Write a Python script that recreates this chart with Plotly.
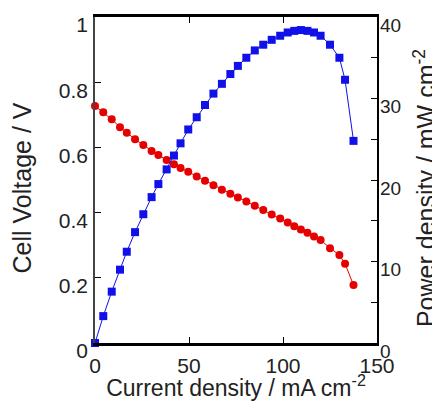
import plotly.graph_objects as go

current = [0, 4.4, 8.9, 13.3, 16.9, 21.3, 25.7, 30.1, 33.7, 38.1, 42, 45.5, 49.6, 54.1,
           58.5, 63, 67.5, 72, 76, 80.5, 85, 89.5, 94, 98.5, 102.5, 106, 109.5, 113,
           116.5, 120, 125, 130, 133, 137.5]
voltage = [0.727, 0.708, 0.686, 0.662, 0.645, 0.625, 0.607, 0.589, 0.577, 0.561, 0.548,
           0.537, 0.525, 0.511, 0.498, 0.484, 0.470, 0.458, 0.446, 0.434, 0.421, 0.408,
           0.394, 0.382, 0.370, 0.358, 0.348, 0.338, 0.327, 0.316, 0.291, 0.270, 0.243, 0.178]
power = [0, 3.3, 6.3, 9.0, 11.2, 13.6, 15.8, 17.9, 19.5, 21.3, 23.0, 24.5, 26.2, 27.7,
         29.2, 30.6, 31.8, 33.0, 34.0, 35.0, 35.9, 36.6, 37.2, 37.7, 38.1, 38.3, 38.4, 38.3,
         38.1, 37.7, 36.6, 35.0, 32.3, 24.8]

x_ticks = [0, 50, 100, 150]
y_ticks = [0, 0.2, 0.4, 0.6, 0.8, 1]
y_tick_labels = ["0", "0.2", "0.4", "0.6", "0.8", "1"]
y2_ticks = [0, 10, 20, 30, 40]

font = "Liberation Sans, Arial, sans-serif"
txt = "#222"

# plot area: 326 px tall for data, tick labels sit 8 px lower than their ticks
H_DATA = 326
LBL_SHIFT = 8
H_TOTAL = H_DATA + LBL_SHIFT

fig = go.Figure()
fig.add_trace(go.Scatter(
    x=current, y=voltage, mode="lines+markers",
    line=dict(color="#e60000", width=1),
    marker=dict(symbol="circle", size=8, color="#e60000"),
    yaxis="y", showlegend=False, cliponaxis=False))
fig.add_trace(go.Scatter(
    x=current, y=power, mode="lines+markers",
    line=dict(color="#1010e8", width=1),
    marker=dict(symbol="square", size=8, color="#1010e8"),
    yaxis="y2", showlegend=False, cliponaxis=False))
# empty traces so that the tick-label axes are drawn
fig.add_trace(go.Scatter(x=[], y=[], yaxis="y3", showlegend=False, hoverinfo="skip"))
fig.add_trace(go.Scatter(x=[], y=[], yaxis="y4", showlegend=False, hoverinfo="skip"))

fig.update_layout(
    width=432, height=393,
    margin=dict(l=87, r=63, t=9, b=58 - LBL_SHIFT),
    paper_bgcolor="white", plot_bgcolor="rgba(0,0,0,0)",
    font=dict(family=font, size=20, color=txt),
    xaxis=dict(range=[0, 150], tickvals=x_ticks, ticks="inside", ticklen=6,
               tickcolor="black", showline=True, linecolor="black", linewidth=2.5,
               mirror="ticks", showgrid=False, zeroline=False, automargin=False,
               ticklabeloverflow="allow", ticklabelstandoff=2,
               tickfont=dict(size=21, color=txt),
               title=dict(text="Current density / mA cm<sup>-2</sup>", standoff=3,
                          font=dict(size=23, color=txt))),
    yaxis=dict(domain=[LBL_SHIFT / H_TOTAL, 1], range=[0, 1], tickvals=y_ticks,
               ticks="inside", ticklen=6, tickcolor="black", showticklabels=False,
               showline=True, linecolor="#444", linewidth=1.5, showgrid=False,
               zeroline=False, automargin=False),
    yaxis2=dict(range=[0, 40], tickvals=y2_ticks, ticks="inside", ticklen=6,
                tickcolor="black", overlaying="y", side="right", showline=True,
                linecolor="black", linewidth=2, showgrid=False, zeroline=False,
                automargin=False, showticklabels=False,
                minor=dict(dtick=5, ticks="inside", ticklen=6, tickcolor="black")),
    yaxis3=dict(domain=[0, H_DATA / H_TOTAL], range=[0, 1], anchor="x", side="left",
                tickvals=y_ticks, ticktext=y_tick_labels, ticks="", showline=False,
                showgrid=False, zeroline=False, automargin=False, fixedrange=True,
                ticklabeloverflow="allow", ticklabelstandoff=6,
                tickfont=dict(size=21, color=txt),
                title=dict(text="Cell Voltage / V", standoff=24,
                           font=dict(size=25, color=txt))),
    yaxis4=dict(domain=[0, H_DATA / H_TOTAL], range=[0, 40], anchor="x", side="right",
                overlaying="y3",
                tickvals=y2_ticks, ticks="", showline=False, showgrid=False,
                zeroline=False, automargin=False, ticklabeloverflow="allow",
                fixedrange=True, ticklabelstandoff=2, tickfont=dict(size=19, color=txt),
                title=dict(text="Power density / mW cm<sup>-2</sup>", standoff=18,
                           font=dict(size=25, color=txt))),
)

fig.write_html("out.html")
